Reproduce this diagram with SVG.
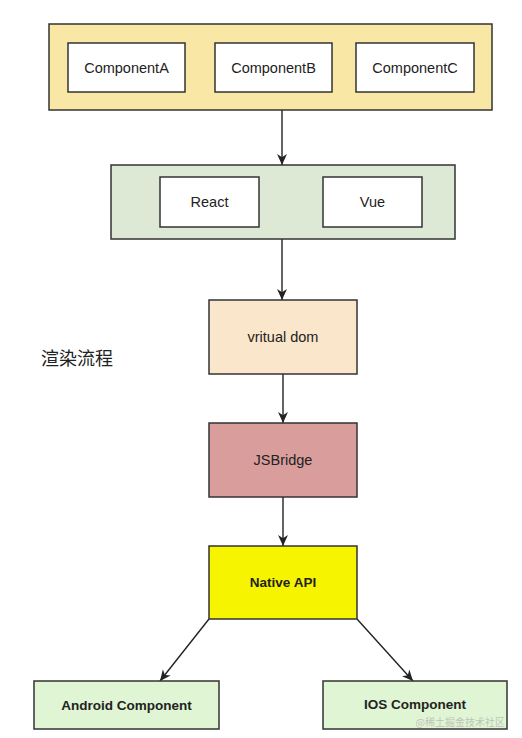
<svg xmlns="http://www.w3.org/2000/svg" width="522" height="738" viewBox="0 0 522 738">
<style>
.box{stroke:#333;stroke-width:1.5}
.in{fill:#fff;stroke:#333;stroke-width:1.5}
.t{font-family:"Liberation Sans",Arial,sans-serif;font-size:14.5px;fill:#222;text-anchor:middle;dominant-baseline:central}
.b{font-weight:bold;font-size:13.5px}
.edge{stroke:#222;stroke-width:1.4;fill:none;marker-end:url(#arr)}
</style>
<defs>
<marker id="arr" viewBox="0 0 10 10" refX="10" refY="5" markerWidth="11" markerHeight="11" markerUnits="userSpaceOnUse" orient="auto">
<path d="M0,0.5 L10,5 L0,9.5 L3,5 Z" fill="#222"/>
</marker>
</defs>
<rect width="522" height="738" fill="#fff"/>
<g id="connectors">
<line class="edge" x1="282" y1="110" x2="282" y2="165"/>
<line class="edge" x1="282" y1="239" x2="282" y2="300"/>
<line class="edge" x1="283" y1="374" x2="283" y2="423"/>
<line class="edge" x1="283" y1="497" x2="283" y2="546"/>
<line class="edge" x1="209" y1="619" x2="160" y2="681"/>
<line class="edge" x1="357" y1="619" x2="413" y2="681"/>
</g>
<g id="components">
<rect class="box" x="49" y="24" width="443" height="86" fill="#f9e7a5"/>
<g id="componentA"><rect class="in" x="68" y="43" width="117" height="49"/><text class="t" x="126.5" y="67.5">ComponentA</text></g>
<g id="componentB"><rect class="in" x="215" y="43" width="117" height="49"/><text class="t" x="273.5" y="67.5">ComponentB</text></g>
<g id="componentC"><rect class="in" x="356" y="43" width="118" height="49"/><text class="t" x="415" y="67.5">ComponentC</text></g>
</g>
<g id="frameworks">
<rect class="box" x="111" y="165" width="344" height="74" fill="#dde9d5"/>
<g id="react"><rect class="in" x="160" y="177" width="99" height="50"/><text class="t" x="209.5" y="202">React</text></g>
<g id="vue"><rect class="in" x="323" y="177" width="99" height="50"/><text class="t" x="372.5" y="202">Vue</text></g>
</g>
<g id="vdom"><rect class="box" x="209" y="300" width="148" height="74" fill="#fae7cb"/><text class="t" x="283" y="337">vritual dom</text></g>
<g id="title"><text x="77" y="357" font-family="'Noto Sans CJK SC',sans-serif" font-size="18" fill="#222" text-anchor="middle" dominant-baseline="central">渲染流程</text></g>
<g id="jsbridge"><rect class="box" x="209" y="423" width="148" height="74" fill="#d99d9c"/><text class="t" x="283" y="460">JSBridge</text></g>
<g id="nativeapi"><rect class="box" x="209" y="546" width="148" height="73" fill="#f7f400"/><text class="t b" x="283" y="582.5">Native API</text></g>
<g id="android"><rect class="box" x="34" y="681" width="185" height="48" fill="#e0f5d3"/><text class="t b" x="126.5" y="705">Android Component</text></g>
<g id="ios"><rect class="box" x="323" y="681" width="184" height="48" fill="#e0f5d3"/><text class="t b" x="415" y="704">IOS Component</text></g>
<text x="505" y="726" font-family="'Noto Sans CJK SC',sans-serif" font-size="10" fill="#b5b5b5" fill-opacity="0.8" text-anchor="end">@稀土掘金技术社区</text>
</svg>
